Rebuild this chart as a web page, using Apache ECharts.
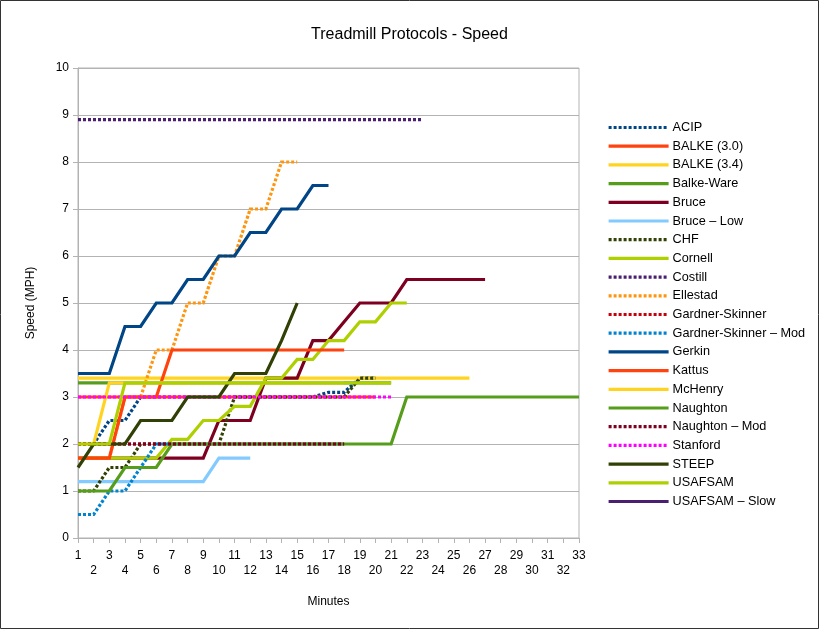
<!DOCTYPE html>
<html><head><meta charset="utf-8">
<script src="https://cdn.jsdelivr.net/npm/echarts@6/dist/echarts.min.js"></script>
<style>html,body{margin:0;padding:0;background:#fff}#c{width:819px;height:629px}</style>
</head><body><div id="c"></div>
<script>
const minutes = ['1','2','3','4','5','6','7','8','9','10','11','12','13','14','15','16','17','18','19','20','21','22','23','24','25','26','27','28','29','30','31','32','33'];
const acip = [2,2,2.5,2.5,3,3,3,3,3,3,3,3,3,3,3,3,3.1,3.1,3.4,3.4];
const balke30 = [3,3,3,3,3,3,3,3,3,3,3,3,3,3,3,3,3,3,3,3];
const balke34 = [3.4,3.4,3.4,3.4,3.4,3.4,3.4,3.4,3.4,3.4,3.4,3.4,3.4,3.4,3.4,3.4,3.4,3.4,3.4,3.4,3.4,3.4,3.4,3.4,3.4,3.4];
const balkeWare = [3.3,3.3,3.3,3.3,3.3,3.3,3.3,3.3,3.3,3.3,3.3,3.3,3.3,3.3,3.3,3.3,3.3,3.3,3.3,3.3,3.3];
const bruce = [1.7,1.7,1.7,1.7,1.7,1.7,1.7,1.7,1.7,2.5,2.5,2.5,3.4,3.4,3.4,4.2,4.2,4.6,5,5,5,5.5,5.5,5.5,5.5,5.5,5.5];
const bruceLow = [1.2,1.2,1.2,1.2,1.2,1.2,1.2,1.2,1.2,1.7,1.7,1.7];
const chf = [1,1,1.5,1.5,2,2,2,2,2,2,3,3,3,3,3,3,3,3,3.4,3.4];
const cornell = [1.7,1.7,1.7,1.7,1.7,1.7,2.1,2.1,2.5,2.5,2.8,2.8,3.4,3.4,3.8,3.8,4.2,4.2,4.6,4.6,5,5];
const costill = [8.9,8.9,8.9,8.9,8.9,8.9,8.9,8.9,8.9,8.9,8.9,8.9,8.9,8.9,8.9,8.9,8.9,8.9,8.9,8.9,8.9,8.9,8.9];
const ellestad = [1.7,1.7,1.7,3,3,4,4,5,5,6,6,7,7,8,8];
const gardnerSkinner = [2,2,2,2,2,2,2,2,2,2,2,2,2,2,2,2,2,2];
const gardnerSkinnerMod = [0.5,0.5,1,1,1.5,2,2,2,2,2,2,2,2,2,2,2,2,2];
const gerkin = [3.5,3.5,3.5,4.5,4.5,5,5,5.5,5.5,6,6,6.5,6.5,7,7,7.5,7.5];
const kattus = [1.7,1.7,1.7,3,3,3,4,4,4,4,4,4,4,4,4,4,4,4];
const mchenry = [2,2,3.3,3.3,3.3,3.3,3.3,3.3,3.3,3.3,3.3,3.3,3.3,3.3,3.3,3.3,3.3,3.3];
const naughton = [1,1,1,1.5,1.5,1.5,2,2,2,2,2,2,2,2,2,2,2,2,2,2,2,3,3,3,3,3,3,3,3,3,3,3,3];
const naughtonMod = [2,2,2,2,2,2,2,2,2,2,2,2,2,2,2,2,2,2];
const stanford = [3,3,3,3,3,3,3,3,3,3,3,3,3,3,3,3,3,3,3,3,3];
const steep = [1.5,2,2,2,2.5,2.5,2.5,3,3,3,3.5,3.5,3.5,4.2,5];
const usafsam = [2,2,2,3.3,3.3,3.3,3.3,3.3,3.3,3.3,3.3,3.3,3.3,3.3,3.3,3.3,3.3,3.3,3.3,3.3,3.3];
const usafsamSlow = [];
const yTicks = [0,1,2,3,4,5,6,7,8,9,10];

const defs = [
  ['ACIP', acip, '#004586', 'dotted'],
  ['BALKE (3.0)', balke30, '#ff420e', 'solid'],
  ['BALKE (3.4)', balke34, '#ffd320', 'solid'],
  ['Balke-Ware', balkeWare, '#579d1c', 'solid'],
  ['Bruce', bruce, '#7e0021', 'solid'],
  ['Bruce \u2013 Low', bruceLow, '#83caff', 'solid'],
  ['CHF', chf, '#314004', 'dotted'],
  ['Cornell', cornell, '#aecf00', 'solid'],
  ['Costill', costill, '#4b1f6f', 'dotted'],
  ['Ellestad', ellestad, '#ff950e', 'dotted'],
  ['Gardner-Skinner', gardnerSkinner, '#c5000b', 'dotted'],
  ['Gardner-Skinner \u2013 Mod', gardnerSkinnerMod, '#0084d1', 'dotted'],
  ['Gerkin', gerkin, '#004586', 'solid'],
  ['Kattus', kattus, '#ff420e', 'solid'],
  ['McHenry', mchenry, '#ffd320', 'solid'],
  ['Naughton', naughton, '#579d1c', 'solid'],
  ['Naughton \u2013 Mod', naughtonMod, '#7e0021', 'dotted'],
  ['Stanford', stanford, '#ff00ff', 'dotted'],
  ['STEEP', steep, '#314004', 'solid'],
  ['USAFSAM', usafsam, '#aecf00', 'solid'],
  ['USAFSAM \u2013 Slow', usafsamSlow, '#4b1f6f', 'solid']
];

const FONT = 'Liberation Sans';
const chart = echarts.init(document.getElementById('c'), null, {renderer:'canvas'});
chart.setOption({
  animation: false,
  backgroundColor: '#fff',
  textStyle: {fontFamily: FONT},
  title: {text: 'Treadmill Protocols - Speed', left: 'center', top: 22,
    textStyle: {fontFamily: FONT, fontSize: 16, fontWeight: 'normal', color: '#000'}},
  graphic: [{type:'rect', shape:{x:0.5,y:0.5,width:818,height:628}, style:{fill:'none', stroke:'#333', lineWidth:1}}],
  grid: {left: 78, top: 68, width: 501, height: 470, show: true, borderColor: '#b3b3b3', borderWidth: 1},
  legend: {orient: 'vertical', left: 607, top: 120, padding: 0, itemWidth: 60, itemHeight: 14, itemGap: 3.7,
    itemStyle: {opacity: 0, borderWidth: 0},
    lineStyle: {width: 3.2},
    textStyle: {fontFamily: FONT, fontSize: 12.7, color: '#000', padding:[0,0,0,-1], lineHeight: 15},
    data: defs.map(d => d[0])},
  xAxis: {type: 'category', data: minutes, boundaryGap: false,
    name: 'Minutes', nameLocation: 'middle', nameGap: 58,
    nameTextStyle: {fontFamily: FONT, fontSize: 12, color: '#000'},
    axisLine: {lineStyle: {color: '#b3b3b3'}},
    axisTick: {show: true, alignWithLabel: true, length: 5, lineStyle: {color: '#b3b3b3'}, interval: 0},
    axisLabel: {interval: 0, color: '#000', fontFamily: FONT, fontSize: 12, margin: 10, lineHeight: 15,
      formatter: (v, i) => (i % 2 === 1 ? '\n' + v : v)},
    splitLine: {show: false}},
  yAxis: {type: 'value', min: yTicks[0], max: yTicks[yTicks.length-1], interval: 1,
    name: 'Speed (MPH)', nameLocation: 'middle', nameGap: 41,
    nameTextStyle: {fontFamily: FONT, fontSize: 12, color: '#000'},
    axisLine: {show: true, lineStyle: {color: '#b3b3b3'}},
    axisTick: {show: true, length: 5, lineStyle: {color: '#b3b3b3'}},
    axisLabel: {color: '#000', fontFamily: FONT, fontSize: 12, margin: 9},
    splitLine: {lineStyle: {color: '#b3b3b3'}}},
  series: defs.map(d => ({
    name: d[0], type: 'line', data: d[1], symbol: 'none', showSymbol: false,
    color: d[2],
    lineStyle: {color: d[2], width: 3.2, type: d[3] === 'dotted' ? [3, 2] : 'solid', cap: 'butt', join: 'miter'},
    emphasis: {disabled: true}
  }))
});
</script></body></html>
